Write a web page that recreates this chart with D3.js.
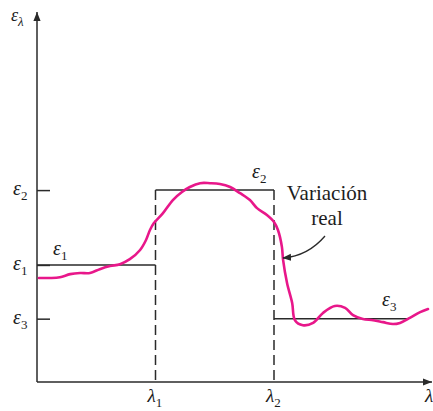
<!DOCTYPE html>
<html>
<head>
<meta charset="utf-8">
<script src="https://cdn.jsdelivr.net/npm/d3@7/dist/d3.min.js"></script>
<style>
  html, body { margin: 0; padding: 0; background: #fff; }
  svg { display: block; }
</style>
</head>
<body>
<svg id="chart" width="433" height="411"></svg>
<script>
// Band boundaries on the wavelength axis
const bandEdges = [3, 6];
const bandEdgeLabels = ["1", "2"];

// Emissivity levels of the step approximation (ε1, ε2, ε3)
const levelNames = ["1", "2", "3"];
const levelValues = [3.05, 5.0, 1.65];

// Real spectral emissivity curve: wavelength and emissivity
const realLambda = [0.05, 0.33, 0.58, 0.84, 1.09, 1.34, 1.59, 1.85, 2.10, 2.35, 2.61, 2.76, 2.86, 2.96,
  3.19, 3.44, 3.67, 3.87, 4.13, 4.38, 4.63, 4.89, 5.14, 5.39, 5.57, 5.82, 6.00, 6.10, 6.20, 6.23,
  6.33, 6.46, 6.53, 6.73, 6.99, 7.24, 7.54, 7.80, 8.00, 8.25, 8.51, 8.76, 9.01, 9.19, 9.44, 9.70, 9.90];
const realEps = [2.71, 2.71, 2.73, 2.81, 2.84, 2.84, 2.94, 3.02, 3.07, 3.20, 3.44, 3.70, 3.96, 4.14,
  4.40, 4.74, 4.95, 5.08, 5.18, 5.18, 5.16, 5.08, 4.92, 4.74, 4.53, 4.35, 4.17, 3.96, 3.52, 3.18,
  2.58, 2.06, 1.61, 1.48, 1.54, 1.80, 1.98, 1.93, 1.74, 1.64, 1.61, 1.56, 1.51, 1.54, 1.67, 1.82, 1.90];

const xMax = 10, yMax = 9.64;
const serif = "'Liberation Serif', 'Times New Roman', 'DejaVu Serif', serif";

const svg = d3.select("#chart");
const x = d3.scaleLinear().domain([0, xMax]).range([37, 432]);
const y = d3.scaleLinear().domain([0, yMax]).range([382, 12]);

const ink = "#2a2a2a";
const eps1 = levelValues[0], eps2 = levelValues[1], eps3 = levelValues[2];

// Arrowheads for the axes and the annotation
const defs = svg.append("defs");
defs.append("marker").attr("id", "axisArrow")
  .attr("viewBox", "0 0 10 10").attr("refX", 10).attr("refY", 5)
  .attr("markerWidth", 9).attr("markerHeight", 9).attr("markerUnits", "userSpaceOnUse")
  .attr("orient", "auto")
  .append("path").attr("d", "M0,1 L10,5 L0,9 Z").attr("fill", ink);
defs.append("marker").attr("id", "noteArrow")
  .attr("viewBox", "0 0 10 10").attr("refX", 9).attr("refY", 5)
  .attr("markerWidth", 9).attr("markerHeight", 9).attr("markerUnits", "userSpaceOnUse")
  .attr("orient", "auto")
  .append("path").attr("d", "M0,1 L10,5 L0,9 Z").attr("fill", ink);

// Axes
svg.append("line")
  .attr("x1", x(0)).attr("y1", y(0)).attr("x2", x(0)).attr("y2", y(yMax))
  .attr("stroke", ink).attr("stroke-width", 1.5).attr("marker-end", "url(#axisArrow)");
svg.append("line")
  .attr("x1", x(0)).attr("y1", y(0)).attr("x2", x(xMax)).attr("y2", y(0))
  .attr("stroke", ink).attr("stroke-width", 1.5).attr("marker-end", "url(#axisArrow)");

// Y ticks at the emissivity levels
const yAxis = d3.axisLeft(y).tickValues(levelValues).tickSize(-13).tickFormat("");
const yg = svg.append("g").attr("transform", `translate(${x(0)},0)`).call(yAxis);
yg.select(".domain").remove();
yg.selectAll(".tick line").attr("stroke", ink).attr("stroke-width", 1.5);

// Step approximation
const step = svg.append("g").attr("fill", "none").attr("stroke", ink).attr("stroke-width", 1.5);
step.append("line").attr("x1", x(0)).attr("x2", x(bandEdges[0])).attr("y1", y(eps1)).attr("y2", y(eps1));
step.append("line").attr("x1", x(bandEdges[0])).attr("x2", x(bandEdges[1])).attr("y1", y(eps2)).attr("y2", y(eps2));
step.append("line").attr("x1", x(bandEdges[1])).attr("x2", x(9.4)).attr("y1", y(eps3)).attr("y2", y(eps3));
bandEdges.forEach(b => {
  step.append("line").attr("x1", x(b)).attr("x2", x(b)).attr("y1", y(eps2)).attr("y2", y(0))
    .attr("stroke-dasharray", "10,5");
});

// Real emissivity curve
const pts = realLambda.map((l, i) => [l, realEps[i]]);
svg.append("path")
  .datum(pts)
  .attr("fill", "none")
  .attr("stroke", "#e8178a")
  .attr("stroke-width", 2.6)
  .attr("stroke-linecap", "round")
  .attr("d", d3.line().x(d => x(d[0])).y(d => y(d[1])).curve(d3.curveCatmullRom.alpha(0.5)));

// Label helper: italic symbol with an upright or italic subscript
function symbol(px, py, main, sub, size, subSize, subItalic) {
  const t = svg.append("text").attr("x", px).attr("y", py)
    .attr("font-family", serif).attr("fill", "#1d1d1d")
    .attr("font-size", size);
  t.append("tspan").attr("font-style", "italic").text(main);
  if (sub) t.append("tspan").attr("dy", size * 0.25).attr("font-size", subSize)
    .attr("font-style", subItalic ? "italic" : "normal").text(sub);
  return t;
}

// Y tick labels
levelValues.forEach((v, i) => symbol(13, y(v) + 5, "ε", levelNames[i], 20, 13));

// Level labels next to the steps
symbol(53, y(eps1) - 10, "ε", levelNames[0], 20, 13);
symbol(252, y(eps2) - 12, "ε", levelNames[1], 20, 13);
symbol(382, y(eps3) - 13, "ε", levelNames[2], 20, 13);

// X tick labels
bandEdges.forEach((b, i) => symbol(x(b) - 8, 402, "λ", bandEdgeLabels[i], 19, 13));
symbol(x(xMax) - 7, 402, "λ", "", 19, 13);

// Y axis title
symbol(11, 21, "ε", "λ", 18, 13, true);

// Annotation
const note = svg.append("text").attr("text-anchor", "middle")
  .attr("font-family", serif).attr("font-size", 21).attr("fill", "#1d1d1d");
note.append("tspan").attr("x", 327).attr("y", 200).text("Variación");
note.append("tspan").attr("x", 327).attr("y", 225).text("real");
svg.append("path")
  .attr("d", `M${325},${236} Q${308},${256} ${283},${258}`)
  .attr("fill", "none").attr("stroke", ink).attr("stroke-width", 1.3)
  .attr("marker-end", "url(#noteArrow)");
</script>
</body>
</html>
